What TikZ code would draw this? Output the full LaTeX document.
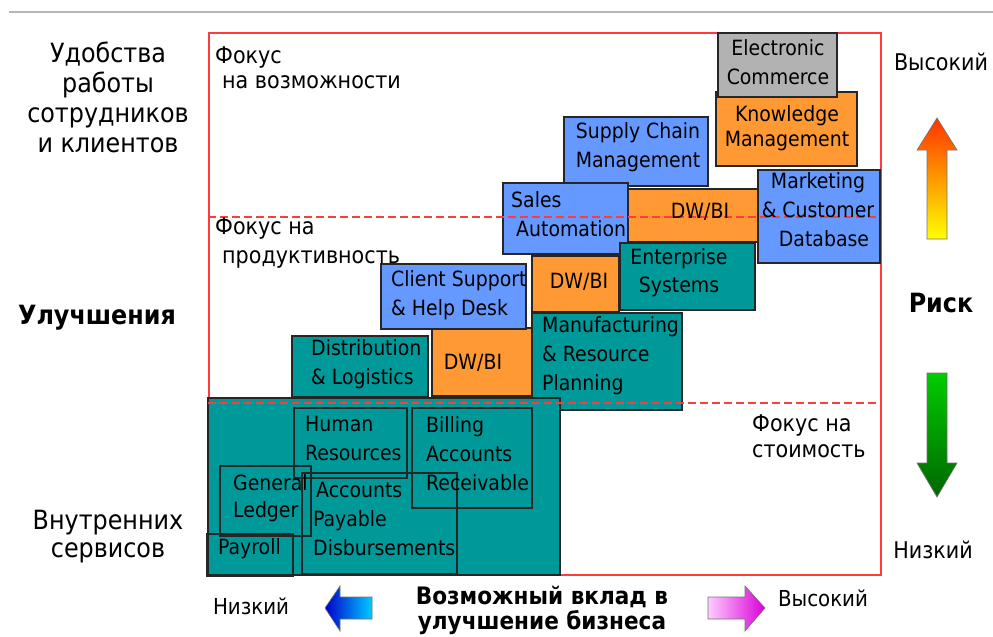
\documentclass[tikz,border=0pt]{standalone}
\usepackage{fontspec}
\setmainfont{DejaVu Sans Condensed}
\definecolor{cteal}{HTML}{009999}
\definecolor{cblue}{HTML}{6699FF}
\definecolor{corange}{HTML}{FF9933}
\definecolor{cgray}{HTML}{B2B2B2}
\definecolor{cframe}{HTML}{FF3B3B}
\begin{document}
\begin{tikzpicture}[x=1pt,y=-1pt,
  bx/.style={draw=black!85, line width=1.3pt, inner sep=0pt, outer sep=0pt, anchor=north west},
  ibx/.style={draw=black!85, line width=1.3pt, inner sep=0pt, outer sep=0pt, anchor=north west},
  bt/.style={font=\fontsize{21}{29}\selectfont, text=black, inner sep=0pt, align=center},
  btl/.style={bt, align=left, anchor=west},
  lab/.style={font=\fontsize{26.5}{30}\selectfont, inner sep=0pt, align=center},
  blab/.style={font=\fontsize{26.5}{30}\selectfont\bfseries, inner sep=0pt, align=center},
  flab/.style={font=\fontsize{23}{26}\selectfont, inner sep=0pt, align=left, anchor=west},
  slab/.style={font=\fontsize{23}{26}\selectfont, inner sep=0pt, align=center},
  reddash/.style={draw=cframe, line width=1.5pt, dash pattern=on 8pt off 4pt},
  arr/.style={draw=black!55, line width=0.6pt}
]
\useasboundingbox (0,0) rectangle (993,637);
% top gray rule
\draw[black!28, line width=2pt] (9,12) -- (993,12);
% frame
\node[draw=cframe, line width=1.5pt, minimum width=672pt, minimum height=542pt, inner sep=0pt, anchor=north west] (frame) at (208,32) {};
% boxes
\node[bx, fill=cteal, minimum width=150pt, minimum height=97pt] (manu) at (532,313) {};
\node[bx, fill=cteal, minimum width=352pt, minimum height=177pt] (base) at (208,398) {};
\node[bx, fill=cteal, minimum width=136pt, minimum height=61pt] (dist) at (292,336) {};
\node[bx, fill=corange, minimum width=100pt, minimum height=68pt] (dwlow) at (432,328) {};
\node[bx, fill=cblue, minimum width=145pt, minimum height=65pt] (client) at (381,264) {};
\node[bx, fill=corange, minimum width=87pt, minimum height=56pt] (dwmid) at (532,256) {};
\node[bx, fill=cblue, minimum width=144pt, minimum height=69pt] (scm) at (564,117) {};
\node[bx, fill=cblue, minimum width=125pt, minimum height=71pt] (sales) at (503,183) {};
\node[bx, fill=cteal, minimum width=135pt, minimum height=67pt] (ent) at (620,243) {};
\node[bx, fill=corange, minimum width=130pt, minimum height=53pt] (dwtop) at (628,189) {};
\node[bx, fill=cblue, minimum width=122pt, minimum height=93pt] (mkt) at (758,170) {};
\node[bx, fill=corange, minimum width=141pt, minimum height=74pt] (km) at (716,92) {};
\node[bx, fill=cgray, minimum width=119pt, minimum height=64pt] (ec) at (718,33) {};
% inner outlines
\node[ibx, minimum width=113pt, minimum height=70pt] (hr) at (294,408) {};
\node[ibx, minimum width=120pt, minimum height=100pt] (bill) at (412,408) {};
\node[ibx, minimum width=91pt, minimum height=70pt] (gl) at (220,466) {};
\node[ibx, minimum width=155pt, minimum height=101pt] (ap) at (302,473) {};
\node[ibx, minimum width=86pt, minimum height=42pt] (pay) at (207,534) {};
% dashed separators
\draw[reddash] (208,217) -- (880,217);
\draw[reddash] (208,403) -- (880,403);
% box texts
\node[bt] (ect) at (778,62) {Electronic\\Commerce};
\node[bt, font=\fontsize{21}{25}\selectfont] (kmt) at (787,128) {Knowledge\\Management};
\node[bt] (scmt) at (638,147) {Supply Chain\\Management};
\node[btl] (salest) at (511,214) {Sales\\\hspace*{5pt}Automation};
\node[bt] (dwtopt) at (700,212) {DW/BI};
\node[bt] (mktt) at (818,210) {Marketing\\\& Customer\\\hspace*{12pt}Database};
\node[bt, font=\fontsize{21}{28}\selectfont] (entt) at (679,273) {Enterprise\\Systems};
\node[btl] (clientt) at (391,295.5) {Client Support\\\& Help Desk};
\node[bt] (dwmidt) at (579,282) {DW/BI};
\node[btl] (distt) at (311,364.5) {Distribution\\\& Logistics};
\node[bt] (dwlowt) at (473,363) {DW/BI};
\node[btl] (manut) at (542,356) {Manufacturing\\\& Resource\\Planning};
\node[btl] (hrt) at (305,438.5) {Human\\Resources};
\node[btl] (billt) at (426,454) {Billing\\Accounts\\Receivable};
\node[btl, font=\fontsize{21}{27}\selectfont] (glt) at (233,498.5) {General\\Ledger};
\node[btl] (apt) at (313,519) {\hspace*{3pt}Accounts\\Payable\\Disbursements};
\node[btl] (payt) at (218,549) {Payroll};
% frame labels
\node[flab, font=\fontsize{23}{25}\selectfont] (f1) at (215,67.5) {Фокус\\\hspace*{7pt}на возможности};
\node[flab, font=\fontsize{23}{29}\selectfont] (f2) at (215,243.5) {Фокус на\\\hspace*{7pt}продуктивность};
\node[flab, font=\fontsize{23}{26}\selectfont] (f3) at (752,436) {Фокус на\\стоимость};
% left labels
\node[lab] (l1) at (108,97.5) {Удобства\\работы\\сотрудников\\и клиентов};
\node[blab] (l2) at (97,318) {Улучшения};
\node[lab, font=\fontsize{26.5}{28}\selectfont] (l3) at (108,537) {Внутренних\\сервисов};
% right labels
\node[slab] (r1) at (941,62) {Высокий};
\node[blab] (r2) at (941,303) {Риск};
\node[slab] (r3) at (933,550) {Низкий};
% bottom labels
\node[slab, font=\fontsize{22}{26}\selectfont] (b1) at (251,606) {Низкий};
\node[slab, font=\fontsize{22}{26}\selectfont] (b2) at (823,598) {Высокий};
\node[blab, font=\fontsize{24}{25}\selectfont\bfseries] (b3) at (542,610.5) {Возможный вклад в\\улучшение бизнеса};
% risk arrows
\shadedraw[arr, top color=orange!40!red, bottom color=yellow, middle color=orange!80!yellow]
  (927,239) -- (947,239) -- (947,150) -- (957,150) -- (937,118) -- (917,150) -- (927,150) -- cycle;
\shadedraw[arr, top color=green!80!black, bottom color=green!40!black]
  (927,373) -- (947,373) -- (947,463) -- (957,463) -- (937,497) -- (917,463) -- (927,463) -- cycle;
% contribution arrows
\shadedraw[arr, left color=blue!80!black, right color=cyan!80!blue]
  (372,597) -- (340,597) -- (340,586) -- (325,608) -- (340,631) -- (340,619) -- (372,619) -- cycle;
\shadedraw[arr, left color=magenta!20, right color=magenta!85!black]
  (708,597) -- (745,597) -- (745,586) -- (765,608) -- (745,631) -- (745,619) -- (708,619) -- cycle;
\end{tikzpicture}
\end{document}
